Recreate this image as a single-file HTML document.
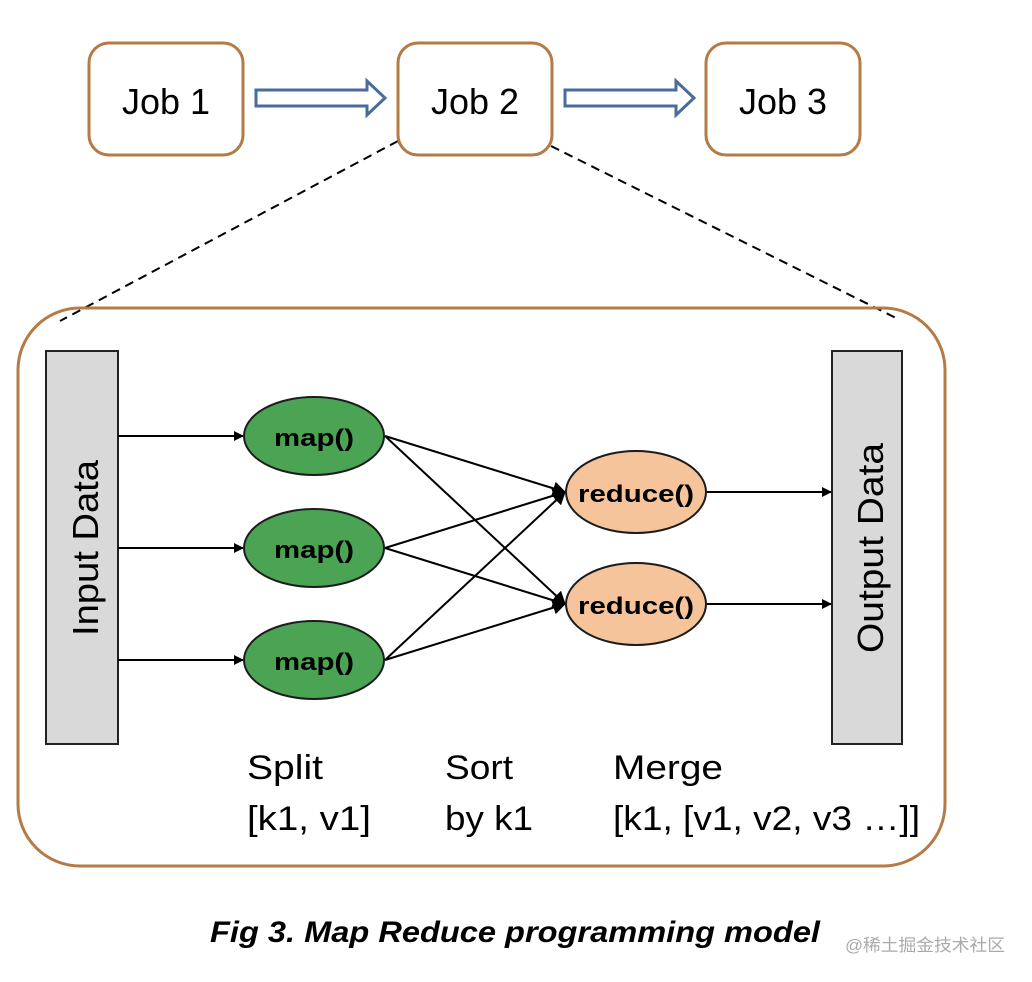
<!DOCTYPE html>
<html><head><meta charset="utf-8"><style>
html,body{margin:0;padding:0;background:#fff;}
svg{display:block;}
text{font-family:"Liberation Sans","Noto Sans CJK SC",sans-serif;}
</style></head><body>
<svg width="1032" height="982" viewBox="0 0 1032 982" xmlns="http://www.w3.org/2000/svg">
<defs>
<marker id="ah" markerWidth="10" markerHeight="10" refX="9" refY="5" orient="auto" markerUnits="userSpaceOnUse">
<path d="M0,0 L10,5 L0,10 Z" fill="#000"/></marker>
<marker id="ah2" markerWidth="14" markerHeight="14" refX="12" refY="7" orient="auto" markerUnits="userSpaceOnUse">
<path d="M0,0 L13,7 L0,14 Z" fill="#000"/></marker>
</defs>
<line x1="398" y1="141" x2="60" y2="321" stroke="#000" stroke-width="2" stroke-dasharray="9,6"/>
<line x1="551" y1="146" x2="900" y2="320" stroke="#000" stroke-width="2" stroke-dasharray="9,6"/>
<rect x="89" y="43" width="154" height="112" rx="20" fill="#fff" stroke="#b57a45" stroke-width="3"/>
<rect x="398" y="43" width="154" height="112" rx="20" fill="#fff" stroke="#b57a45" stroke-width="3"/>
<rect x="706" y="43" width="154" height="112" rx="20" fill="#fff" stroke="#b57a45" stroke-width="3"/>
<text x="166" y="114" font-size="36" text-anchor="middle" textLength="88" lengthAdjust="spacingAndGlyphs">Job 1</text>
<text x="475" y="114" font-size="36" text-anchor="middle" textLength="88" lengthAdjust="spacingAndGlyphs">Job 2</text>
<text x="783" y="114" font-size="36" text-anchor="middle" textLength="88" lengthAdjust="spacingAndGlyphs">Job 3</text>
<path d="M256,90 L367,90 L367,81 L385,98 L367,115 L367,106 L256,106 Z" fill="#fff" stroke="#4a6b9c" stroke-width="3"/>
<path d="M565,90 L676,90 L676,81 L694,98 L676,115 L676,106 L565,106 Z" fill="#fff" stroke="#4a6b9c" stroke-width="3"/>
<rect x="18" y="308" width="927" height="558" rx="62" fill="none" stroke="#b57a45" stroke-width="3"/>
<rect x="46" y="351" width="72" height="393" fill="#d9d9d9" stroke="#222" stroke-width="2"/>
<rect x="832" y="351" width="70" height="393" fill="#d9d9d9" stroke="#222" stroke-width="2"/>
<text transform="translate(98,548) rotate(-90)" font-size="36" text-anchor="middle" textLength="176" lengthAdjust="spacingAndGlyphs">Input Data</text>
<text transform="translate(883,548) rotate(-90)" font-size="36" text-anchor="middle" textLength="210" lengthAdjust="spacingAndGlyphs">Output Data</text>
<line x1="118" y1="436" x2="243" y2="436" stroke="#000" stroke-width="2" marker-end="url(#ah)"/>
<line x1="118" y1="548" x2="243" y2="548" stroke="#000" stroke-width="2" marker-end="url(#ah)"/>
<line x1="118" y1="660" x2="243" y2="660" stroke="#000" stroke-width="2" marker-end="url(#ah)"/>
<g stroke="#000" stroke-width="2">
<line x1="385" y1="436" x2="565" y2="492" marker-end="url(#ah2)"/>
<line x1="385" y1="436" x2="565" y2="604" marker-end="url(#ah2)"/>
<line x1="385" y1="548" x2="565" y2="492" marker-end="url(#ah2)"/>
<line x1="385" y1="548" x2="565" y2="604" marker-end="url(#ah2)"/>
<line x1="385" y1="660" x2="565" y2="492" marker-end="url(#ah2)"/>
<line x1="385" y1="660" x2="565" y2="604" marker-end="url(#ah2)"/>
<line x1="707" y1="492" x2="831" y2="492" marker-end="url(#ah)"/>
<line x1="707" y1="604" x2="831" y2="604" marker-end="url(#ah)"/>
</g>
<g fill="#4aa453" stroke="#1c1c1c" stroke-width="2">
<ellipse cx="314" cy="436" rx="70" ry="39"/>
<ellipse cx="314" cy="548" rx="70" ry="39"/>
<ellipse cx="314" cy="660" rx="70" ry="39"/>
</g>
<g fill="#f5c49a" stroke="#1c1c1c" stroke-width="2">
<ellipse cx="636" cy="492" rx="70" ry="41"/>
<ellipse cx="636" cy="604" rx="70" ry="41"/>
</g>
<g font-size="24" font-weight="bold" text-anchor="middle">
<text x="314" y="446" textLength="80" lengthAdjust="spacingAndGlyphs">map()</text>
<text x="314" y="558" textLength="80" lengthAdjust="spacingAndGlyphs">map()</text>
<text x="314" y="670" textLength="80" lengthAdjust="spacingAndGlyphs">map()</text>
<text x="636" y="502" textLength="116" lengthAdjust="spacingAndGlyphs">reduce()</text>
<text x="636" y="614" textLength="116" lengthAdjust="spacingAndGlyphs">reduce()</text>
</g>
<g font-size="34">
<text x="247" y="779" textLength="76" lengthAdjust="spacingAndGlyphs">Split</text>
<text x="247" y="830" textLength="124" lengthAdjust="spacingAndGlyphs">[k1, v1]</text>
<text x="445" y="779" textLength="68" lengthAdjust="spacingAndGlyphs">Sort</text>
<text x="445" y="830" textLength="88" lengthAdjust="spacingAndGlyphs">by k1</text>
<text x="613" y="779" textLength="110" lengthAdjust="spacingAndGlyphs">Merge</text>
<text x="613" y="830" textLength="307" lengthAdjust="spacingAndGlyphs">[k1, [v1, v2, v3 …]]</text>
</g>
<text x="210" y="942" font-size="30" font-weight="bold" font-style="italic" textLength="610" lengthAdjust="spacingAndGlyphs">Fig 3. Map Reduce programming model</text>
<text x="845" y="951" font-size="17" fill="#aaa" textLength="160" lengthAdjust="spacingAndGlyphs">@稀土掘金技术社区</text>
</svg>
</body></html>
